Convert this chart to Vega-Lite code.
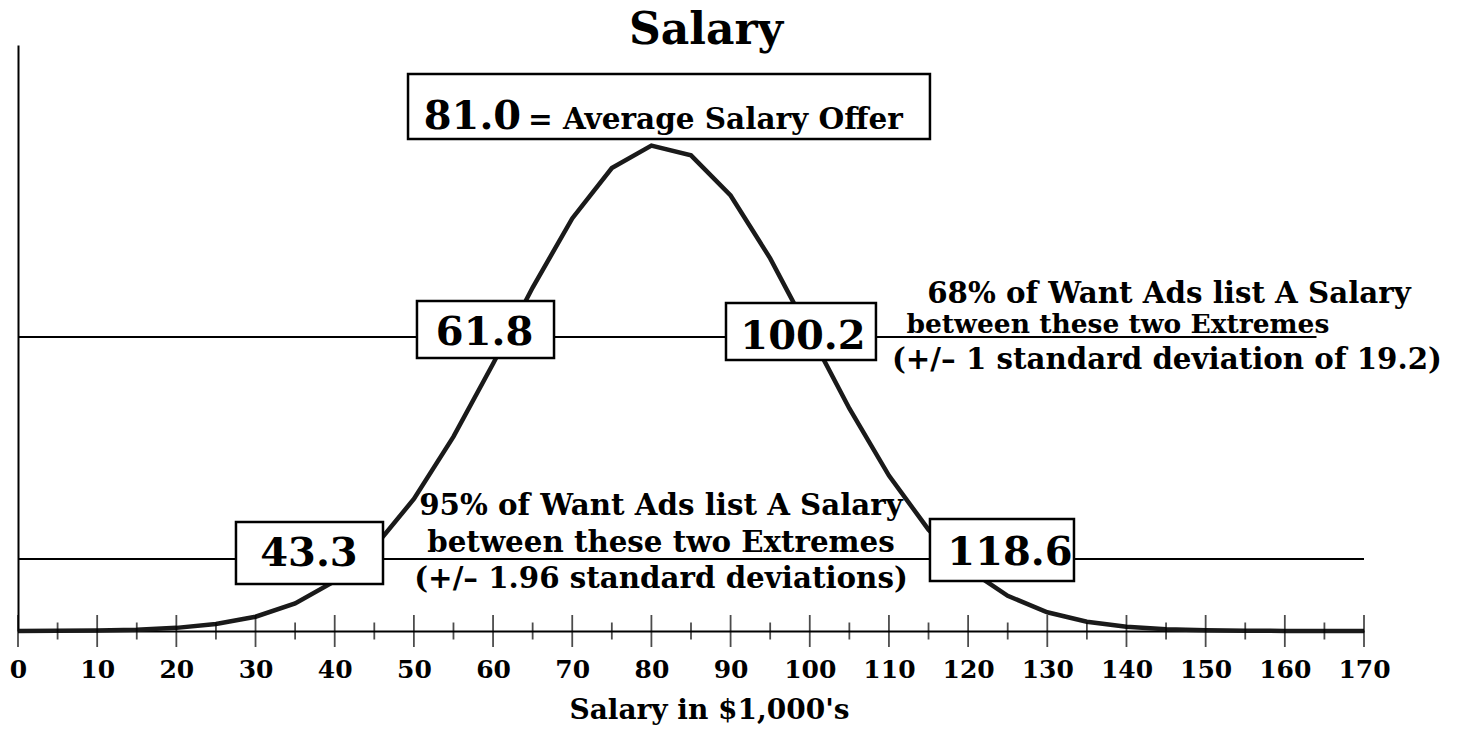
{
  "$schema": "https://vega.github.io/schema/vega-lite/v6.json",
  "width": 1346,
  "height": 586,
  "autosize": {"type": "none"},
  "padding": {"left": 18, "top": 45, "right": 93, "bottom": 99},
  "background": "white",
  "title": {"text": "Salary", "font": "DejaVu Serif", "fontSize": 44, "fontWeight": "bold", "color": "black", "anchor": "middle", "baseline": "alphabetic", "offset": 2, "dx": 15, "dy": 45},
  "config": {"view": {"stroke": null}, "font": "DejaVu Serif"},
  "datasets": {
    "curve": [
      {"salary": 0, "density": 0.003}, {"salary": 5, "density": 0.008}, {"salary": 10, "density": 0.022},
      {"salary": 15, "density": 0.057}, {"salary": 20, "density": 0.134}, {"salary": 25, "density": 0.296},
      {"salary": 30, "density": 0.610}, {"salary": 35, "density": 1.178}, {"salary": 40, "density": 2.126},
      {"salary": 45, "density": 3.582}, {"salary": 50, "density": 5.644}, {"salary": 55, "density": 8.308},
      {"salary": 60, "density": 11.425}, {"salary": 65, "density": 14.683}, {"salary": 70, "density": 17.634},
      {"salary": 75, "density": 19.788}, {"salary": 80, "density": 20.752}, {"salary": 85, "density": 20.334},
      {"salary": 90, "density": 18.618}, {"salary": 95, "density": 15.930}, {"salary": 100, "density": 12.735},
      {"salary": 105, "density": 9.514}, {"salary": 110, "density": 6.642}, {"salary": 115, "density": 4.332},
      {"salary": 120, "density": 2.641}, {"salary": 125, "density": 1.504}, {"salary": 130, "density": 0.800},
      {"salary": 135, "density": 0.398}, {"salary": 140, "density": 0.185}, {"salary": 145, "density": 0.080},
      {"salary": 150, "density": 0.033}, {"salary": 155, "density": 0.012}, {"salary": 160, "density": 0.004},
      {"salary": 165, "density": 0.002}, {"salary": 170, "density": 0.000}
    ],
    "bands": [
      {"band": "68%", "from": 0, "to": 164, "level": 12.57},
      {"band": "95%", "from": 0, "to": 170, "level": 3.08}
    ],
    "ticks": [
      {"t": 0, "kind": "major"}, {"t": 5, "kind": "minor"}, {"t": 10, "kind": "major"}, {"t": 15, "kind": "minor"},
      {"t": 20, "kind": "major"}, {"t": 25, "kind": "minor"}, {"t": 30, "kind": "major"}, {"t": 35, "kind": "minor"},
      {"t": 40, "kind": "major"}, {"t": 45, "kind": "minor"}, {"t": 50, "kind": "major"}, {"t": 55, "kind": "minor"},
      {"t": 60, "kind": "major"}, {"t": 65, "kind": "minor"}, {"t": 70, "kind": "major"}, {"t": 75, "kind": "minor"},
      {"t": 80, "kind": "major"}, {"t": 85, "kind": "minor"}, {"t": 90, "kind": "major"}, {"t": 95, "kind": "minor"},
      {"t": 100, "kind": "major"}, {"t": 105, "kind": "minor"}, {"t": 110, "kind": "major"}, {"t": 115, "kind": "minor"},
      {"t": 120, "kind": "major"}, {"t": 125, "kind": "minor"}, {"t": 130, "kind": "major"}, {"t": 135, "kind": "minor"},
      {"t": 140, "kind": "major"}, {"t": 145, "kind": "minor"}, {"t": 150, "kind": "major"}, {"t": 155, "kind": "minor"},
      {"t": 160, "kind": "major"}, {"t": 165, "kind": "minor"}, {"t": 170, "kind": "major"}
    ],
    "boxes": [
      {"label": "81.0", "x1": 49.26, "x2": 115.18, "y1": 21.03, "y2": 23.81, "tx": 57.4, "ty": 21.46},
      {"label": "61.8", "x1": 50.39, "x2": 67.70, "y1": 11.67, "y2": 14.11, "tx": 58.92, "ty": 12.23},
      {"label": "100.2", "x1": 89.42, "x2": 108.36, "y1": 11.58, "y2": 14.02, "tx": 99.14, "ty": 12.05},
      {"label": "43.3", "x1": 27.53, "x2": 46.10, "y1": 2.01, "y2": 4.66, "tx": 36.75, "ty": 2.78},
      {"label": "118.6", "x1": 115.18, "x2": 133.37, "y1": 2.14, "y2": 4.79, "tx": 125.28, "ty": 2.82}
    ],
    "offer": [
      {"label": "= Average Salary Offer", "tx": 64.4, "ty": 21.46}
    ],
    "notes": [
      {"label": "68% of Want Ads list A Salary", "tx": 145.37, "ty": 14.02},
      {"label": "(+/– 1 standard deviation of  19.2)", "tx": 145.11, "ty": 11.2},
      {"label": "95% of Want Ads list A Salary", "tx": 81.21, "ty": 4.96},
      {"label": "between these two Extremes", "tx": 81.21, "ty": 3.38},
      {"label": "(+/– 1.96 standard deviations)", "tx": 81.21, "ty": 1.84}
    ],
    "narrow": [
      {"label": "between these two Extremes", "tx": 138.92, "ty": 12.74}
    ]
  },
  "layer": [
    {
      "data": {"name": "bands"},
      "mark": {"type": "rule", "color": "black", "strokeWidth": 2},
      "encoding": {
        "x": {"field": "from", "type": "quantitative",
          "scale": {"domain": [0, 170], "nice": false, "zero": false},
          "axis": {"title": "Salary in $1,000's", "values": [0,10,20,30,40,50,60,70,80,90,100,110,120,130,140,150,160,170],
            "ticks": false, "grid": false, "domainColor": "black", "domainWidth": 2,
            "labelFont": "DejaVu Serif", "labelFontWeight": "bold", "labelFontSize": 25, "labelColor": "black",
            "labelPadding": 26, "labelFlush": false, "labelOverlap": false,
            "titleFont": "DejaVu Serif", "titleFontWeight": "bold", "titleFontSize": 28, "titleColor": "black",
            "titleX": 691, "titleY": 87, "titleBaseline": "alphabetic", "titleAnchor": null, "titleAlign": "center"}},
        "x2": {"field": "to"},
        "y": {"field": "level", "type": "quantitative",
          "scale": {"domain": [0, 25.05], "nice": false},
          "axis": {"title": null, "labels": false, "ticks": false, "grid": false, "domainColor": "black", "domainWidth": 2}}
      }
    },
    {
      "data": {"name": "curve"},
      "mark": {"type": "line", "color": "#1a1a1a", "strokeWidth": 4.5},
      "encoding": {
        "x": {"field": "salary", "type": "quantitative"},
        "y": {"field": "density", "type": "quantitative"}
      }
    },
    {
      "data": {"name": "ticks"},
      "mark": {"type": "tick", "orient": "vertical", "thickness": 1.8, "color": "black"},
      "encoding": {
        "x": {"field": "t", "type": "quantitative"},
        "y": {"datum": 0, "type": "quantitative"},
        "size": {"field": "kind", "type": "nominal", "scale": {"domain": ["major", "minor"], "range": [32, 17]}, "legend": null}
      }
    },
    {
      "data": {"name": "boxes"},
      "mark": {"type": "rect", "fill": "white", "stroke": "black", "strokeWidth": 2.5},
      "encoding": {
        "x": {"field": "x1", "type": "quantitative"},
        "x2": {"field": "x2"},
        "y": {"field": "y1", "type": "quantitative"},
        "y2": {"field": "y2"}
      }
    },
    {
      "data": {"name": "boxes"},
      "mark": {"type": "text", "font": "DejaVu Serif", "fontWeight": "bold", "fontSize": 40, "color": "black", "align": "center", "baseline": "alphabetic"},
      "encoding": {
        "x": {"field": "tx", "type": "quantitative"},
        "y": {"field": "ty", "type": "quantitative"},
        "text": {"field": "label"}
      }
    },
    {
      "data": {"name": "offer"},
      "mark": {"type": "text", "font": "DejaVu Serif", "fontWeight": "bold", "fontSize": 29.5, "color": "black", "align": "left", "baseline": "alphabetic"},
      "encoding": {
        "x": {"field": "tx", "type": "quantitative"},
        "y": {"field": "ty", "type": "quantitative"},
        "text": {"field": "label"}
      }
    },
    {
      "data": {"name": "notes"},
      "mark": {"type": "text", "font": "DejaVu Serif", "fontWeight": "bold", "fontSize": 29.3, "color": "black", "align": "center", "baseline": "alphabetic"},
      "encoding": {
        "x": {"field": "tx", "type": "quantitative"},
        "y": {"field": "ty", "type": "quantitative"},
        "text": {"field": "label"}
      }
    },
    {
      "data": {"name": "narrow"},
      "mark": {"type": "text", "font": "DejaVu Serif", "fontWeight": "bold", "fontSize": 26.5, "color": "black", "align": "center", "baseline": "alphabetic"},
      "encoding": {
        "x": {"field": "tx", "type": "quantitative"},
        "y": {"field": "ty", "type": "quantitative"},
        "text": {"field": "label"}
      }
    }
  ]
}
